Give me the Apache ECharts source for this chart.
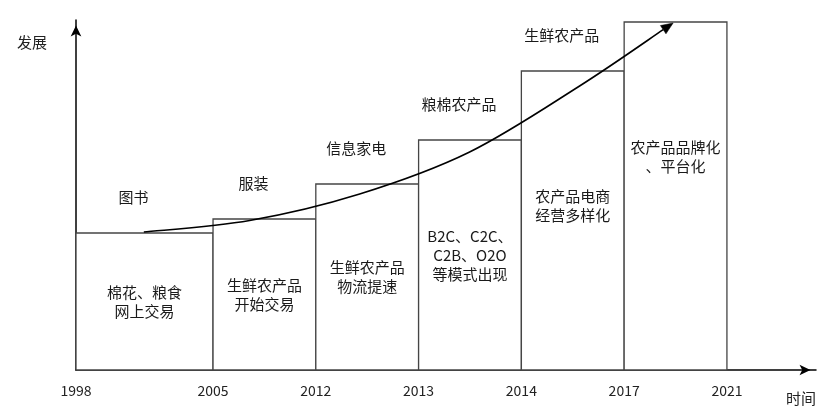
<!DOCTYPE html>
<html><head><meta charset="utf-8">
<script src="https://cdn.jsdelivr.net/npm/echarts@6/dist/echarts.min.js"></script>
<style>html,body{margin:0;padding:0;background:#fff}#c{width:832px;height:416px}</style>
</head><body><div id="c"></div>
<script>
// ---- data ----
const years = ['1998', '2005', '2012', '2013', '2014', '2017', '2021'];
const spans = [4 / 3, 1, 1, 1, 1, 1];           // relative widths of the stages
const levels = [137, 151, 186, 230, 299, 348];  // development level of each stage
const stageText = ['棉花、粮食\n网上交易', '生鲜农产品\n开始交易', '生鲜农产品\n物流提速',
  'B2C、C2C、\nC2B、O2O\n等模式出现', '农产品电商\n经营多样化', '农产品品牌化\n、平台化'];
const productText = ['图书', '服装', '信息家电', '粮棉农产品', '生鲜农产品', ''];
const curveX = [0.66, 1.69, 2.76, 3.83, 4.90, 5.81];
const curveY = [138, 149.5, 176, 218, 284, 347];

const FONT = '"Noto Sans CJK SC", "Noto Sans", sans-serif';
const bounds = [0];
spans.forEach(s => bounds.push(bounds[bounds.length - 1] + s));
const barData = levels.map((h, i) => [bounds[i], bounds[i + 1], h, i]);

function catmullPath(p) {
  let d = 'M' + p[0][0] + ' ' + p[0][1];
  for (let i = 0; i < p.length - 1; i++) {
    const p0 = p[i - 1] || p[i], p1 = p[i], p2 = p[i + 1], p3 = p[i + 2] || p[i + 1];
    const c1 = [p1[0] + (p2[0] - p0[0]) / 6, p1[1] + (p2[1] - p0[1]) / 6];
    const c2 = [p2[0] - (p3[0] - p1[0]) / 6, p2[1] - (p3[1] - p1[1]) / 6];
    d += ' C' + c1[0] + ' ' + c1[1] + ' ' + c2[0] + ' ' + c2[1] + ' ' + p2[0] + ' ' + p2[1];
  }
  return d;
}

const chart = echarts.init(document.getElementById('c'), null, {renderer: 'canvas'});
chart.setOption({
  animation: false,
  backgroundColor: '#fff',
  grid: {left: 76, top: 20, width: 740, height: 350},
  xAxis: {
    type: 'value', min: 0, max: 7.2,
    name: '时间', nameLocation: 'end', nameGap: -30,
    nameTextStyle: {fontFamily: FONT, fontSize: 15, color: '#222', align: 'left', verticalAlign: 'top', padding: [21, 0, 0, 0]},
    axisLine: {show: true, symbol: ['none', 'arrow'], symbolSize: [8, 11], symbolOffset: [0, -5.5],
      lineStyle: {color: '#000', width: 1.5}},
    axisTick: {show: false}, splitLine: {show: false},
    axisLabel: {
      customValues: bounds, fontFamily: FONT, fontSize: 14, color: '#222', margin: 14,
      formatter: function (v) {
        let best = 0;
        bounds.forEach((b, i) => { if (Math.abs(b - v) < Math.abs(bounds[best] - v)) best = i; });
        return years[best];
      }
    }
  },
  yAxis: {
    type: 'value', min: 0, max: 350,
    name: '发展', nameLocation: 'end', nameGap: -22,
    nameTextStyle: {fontFamily: FONT, fontSize: 15, color: '#222', align: 'right', verticalAlign: 'middle', padding: [0, 29, 0, 0]},
    axisLine: {show: true, symbol: ['none', 'arrow'], symbolSize: [8, 11], symbolOffset: [0, -5.5],
      lineStyle: {color: '#000', width: 1.5}},
    axisTick: {show: false}, splitLine: {show: false}, axisLabel: {show: false}
  },
  series: [
    {
      type: 'custom', coordinateSystem: 'cartesian2d', silent: true, z: 1,
      data: barData,
      renderItem: function (params, api) {
        const s = api.value(0), e = api.value(1), h = api.value(2), i = api.value(3);
        const p0 = api.coord([s, 0]), p1 = api.coord([e, h]);
        const cx = (p0[0] + p1[0]) / 2, top = p1[1], bottom = p0[1];
        const ty = Math.min((top + bottom) / 2, top + 135);
        const children = [
          {type: 'rect', shape: {x: p0[0], y: top, width: p1[0] - p0[0], height: bottom - top},
            style: {fill: '#fff', stroke: '#454545', lineWidth: 1.3}},
          {type: 'text', style: {text: stageText[i], x: cx, y: ty, align: 'center', verticalAlign: 'middle',
            fontFamily: FONT, fontSize: 15, lineHeight: 19, fill: '#1a1a1a'}}
        ];
        if (productText[i]) {
          children.push({type: 'text', style: {text: productText[i], x: cx - 11, y: top - 36, align: 'center',
            verticalAlign: 'middle', fontFamily: FONT, fontSize: 15, fill: '#1a1a1a'}});
        }
        return {type: 'group', children: children};
      }
    },
    {
      type: 'custom', coordinateSystem: 'cartesian2d', silent: true, z: 3,
      data: [[curveX[0], curveY[0]]],
      renderItem: function (params, api) {
        const pts = curveX.map((x, k) => api.coord([x, curveY[k]]));
        const n = pts.length, a = pts[n - 2], b = pts[n - 1];
        const ang = Math.atan2(b[1] - a[1], b[0] - a[0]);
        const L = 12, W = 5;
        const bx = b[0] - L * Math.cos(ang), by = b[1] - L * Math.sin(ang);
        const l = [bx + W * Math.sin(ang), by - W * Math.cos(ang)];
        const r = [bx - W * Math.sin(ang), by + W * Math.cos(ang)];
        const linePts = pts.slice(0, n - 1).concat([[bx, by]]);
        return {type: 'group', children: [
          {type: 'path', shape: {pathData: catmullPath(linePts)}, style: {fill: null, stroke: '#000', lineWidth: 1.6}},
          {type: 'polygon', shape: {points: [b, l, r]}, style: {fill: '#000', stroke: '#000', lineWidth: 0.5}}
        ]};
      }
    }
  ]
});
</script></body></html>
